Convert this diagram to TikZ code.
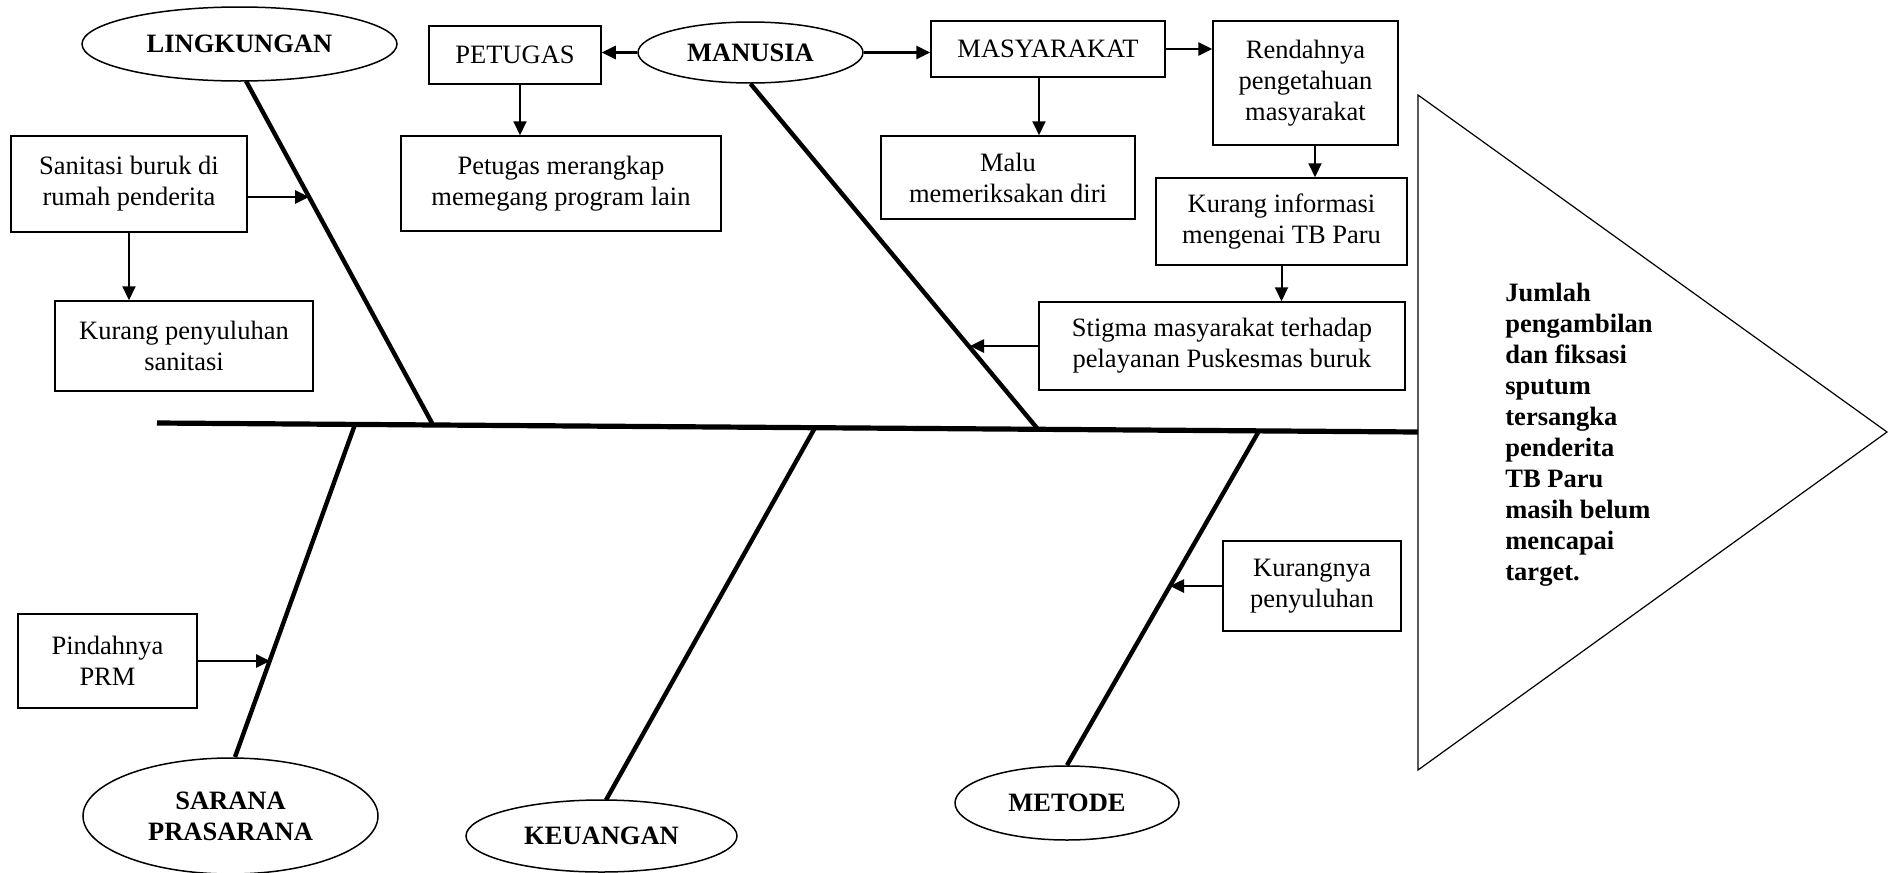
\documentclass[tikz,border=0pt]{standalone}
\usepackage{fontspec}
\setmainfont{Liberation Serif}
\usetikzlibrary{arrows.meta,shapes.geometric,calc}
\newcommand\myfs{\fontsize{13.25pt}{15.5pt}\selectfont}
\begin{document}
\begin{tikzpicture}[x=0.5pt,y=-0.5pt,
  box/.style={draw,line width=0.75pt,align=center,inner sep=0pt,font=\myfs},
  ell/.style={draw,ellipse,line width=0.75pt,align=center,inner sep=0pt,font=\myfs\bfseries},
  bone/.style={line width=2.2pt},
  spine/.style={line width=2.6pt},
  headline/.style={line width=0.6pt,line join=miter},
  harr/.style={line width=1.3pt,-{Triangle[length=7pt,width=6.5pt]}},
  varr/.style={line width=1pt,-{Triangle[length=7pt,width=6.5pt]}}]
\useasboundingbox (0,0) rectangle (1891,873);

% head
\coordinate (hT) at (1418,95);
\coordinate (hB) at (1418,770);
\coordinate (hP) at (1887,432);
\draw[headline] (hT) -- (hP) -- (hB) -- cycle;
\node[font=\myfs\bfseries,align=left,anchor=west,inner sep=0pt] (goal) at (1505,435)
  {Jumlah\\pengambilan\\dan fiksasi\\sputum\\tersangka\\penderita\\TB Paru\\masih belum\\mencapai\\target.};

% spine
\coordinate (sL) at (157,423);
\coordinate (sR) at (1418,432);
\draw[spine] (sL) -- (sR);

% category ellipses
\node[ell,minimum width=157.5pt,minimum height=37pt] (lin) at (239.5,44) {LINGKUNGAN};
\node[ell,minimum width=112.5pt,minimum height=30.5pt] (man) at (750.5,52.5) {MANUSIA};
\node[ell,minimum width=147.5pt,minimum height=58pt] (sar) at (230.5,816) {SARANA\\PRASARANA};
\node[ell,minimum width=135.5pt,minimum height=36pt] (keu) at (601.5,836) {KEUANGAN};
\node[ell,minimum width=112pt,minimum height=37pt] (met) at (1067,803) {METODE};

% cause boxes
\node[box,minimum width=86pt,minimum height=29pt] (pet) at (515,55) {PETUGAS};
\node[box,minimum width=160pt,minimum height=47.5pt] (petm) at (561,183.5) {Petugas merangkap\\memegang program lain};
\node[box,minimum width=118pt,minimum height=48pt] (san) at (129,184) {Sanitasi buruk di\\rumah penderita};
\node[box,minimum width=129pt,minimum height=45pt] (kps) at (184,346) {Kurang penyuluhan\\sanitasi};
\node[box,minimum width=89.5pt,minimum height=47pt] (pin) at (107.5,661) {Pindahnya\\PRM};
\node[box,minimum width=117pt,minimum height=28pt] (mas) at (1048,49) {MASYARAKAT};
\node[box,minimum width=92.5pt,minimum height=62pt] (ren) at (1305.5,83) {Rendahnya\\pengetahuan\\masyarakat};
\node[box,minimum width=127pt,minimum height=41.5pt] (malu) at (1008,177.5) {Malu\\memeriksakan diri};
\node[box,minimum width=125.5pt,minimum height=43.5pt] (kin) at (1281.5,221.5) {Kurang informasi\\mengenai TB Paru};
\node[box,minimum width=183pt,minimum height=44pt] (sti) at (1222,346) {Stigma masyarakat terhadap\\pelayanan Puskesmas buruk};
\node[box,minimum width=89pt,minimum height=45pt] (kur) at (1312,586) {Kurangnya\\penyuluhan};

% bones
\coordinate (lb) at (246,81);
\coordinate (ls) at (433,424.9);
\coordinate (ms) at (1038,429.3);
\coordinate (sn) at (235,757);
\coordinate (ss) at (355,424.4);
\coordinate (kn) at (606,800);
\coordinate (ks) at (815,427.7);
\coordinate (ms2) at (1259,430.9);
\draw[bone] (lb) -- (ls);
\draw[bone] (man.south) -- (ms);
\draw[bone] (sn) -- (ss);
\draw[bone] (kn) -- (ks);
\draw[bone] (met.north) -- (ms2);

% arrow targets on bones
\coordinate (a1) at (309,197);
\coordinate (a2) at (970,346);
\coordinate (a3) at (270,661);
\coordinate (a4) at (1170,586);

% arrows
\draw[harr] ([yshift=-6.5pt]san.east) -- (a1);
\draw[varr] (san.south) -- (san.south |- kps.north);
\draw[harr] (man.west) -- (man.west -| pet.east);
\draw[varr] ([xshift=2.5pt]pet.south) -- ([xshift=2.5pt]pet.south |- petm.north);
\draw[harr] (man.east) -- (man.east -| mas.west);
\draw[harr] (mas.east) -- (mas.east -| ren.west);
\draw[varr] ([xshift=-4.5pt]mas.south) -- ([xshift=-4.5pt]mas.south |- malu.north);
\draw[varr] ([xshift=4.75pt]ren.south) -- ([xshift=4.75pt]ren.south |- kin.north);
\draw[varr] (kin.south) -- (kin.south |- sti.north);
\draw[harr] (sti.west) -- (a2);
\draw[harr] (pin.east) -- (a3);
\draw[harr] (kur.west) -- (a4);
\end{tikzpicture}
\end{document}
